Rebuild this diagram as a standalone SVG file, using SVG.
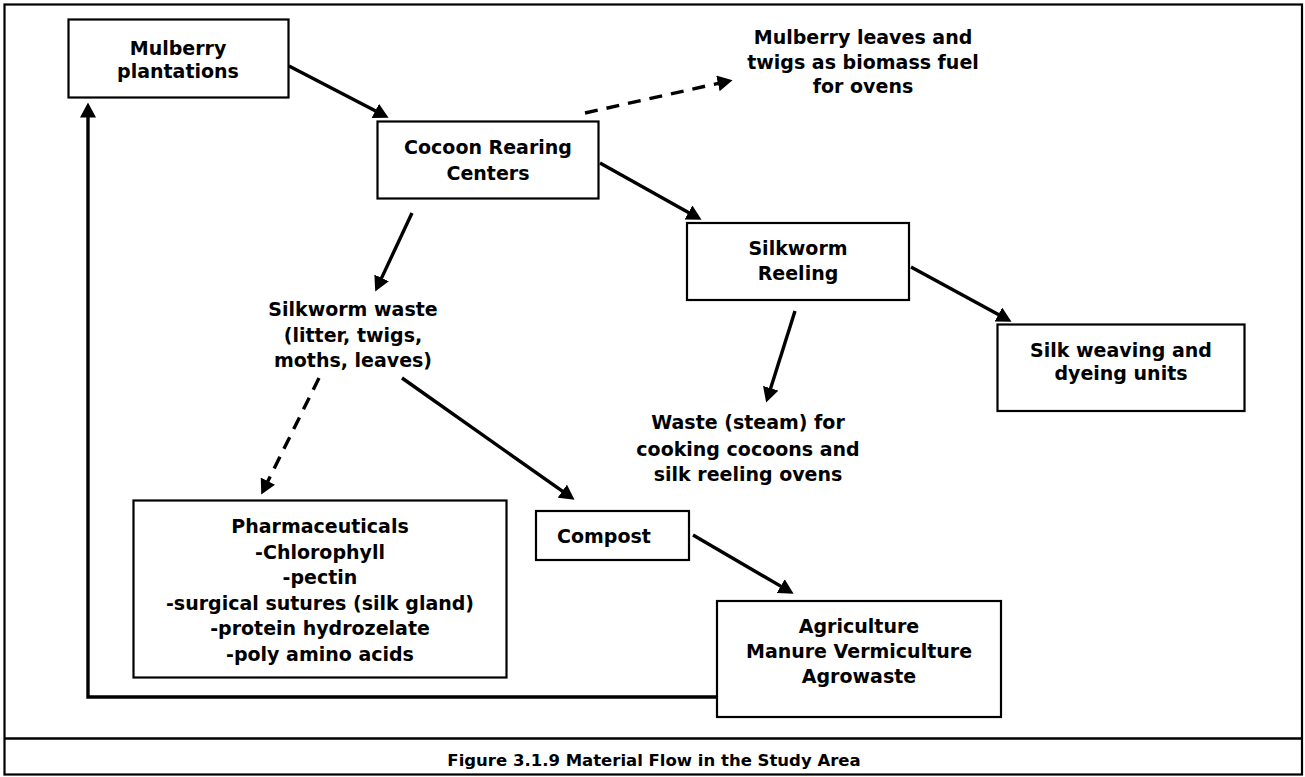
<svg xmlns="http://www.w3.org/2000/svg" width="1305" height="777" viewBox="0 0 1305 777">
  <style>
    .box { fill: #ffffff; stroke: #000000; stroke-width: 2.2; }
    .frame { fill: none; stroke: #000000; stroke-width: 2.2; }
    .lbl { font-family: "DejaVu Sans", Verdana, sans-serif; font-weight: bold; font-size: 19px; fill: #000000; text-anchor: middle; }
    .cap { font-family: "DejaVu Sans", Verdana, sans-serif; font-weight: bold; font-size: 16.5px; fill: #000000; text-anchor: middle; }
    .flow { fill: none; stroke: #000000; stroke-width: 3.4; marker-end: url(#head); }
    .dash { stroke-dasharray: 13 9; }
  </style>
  <defs>
    <!-- solid triangular arrowhead shared by every connector -->
    <marker id="head" viewBox="0 0 15 16" refX="0.5" refY="8" markerWidth="15" markerHeight="16" markerUnits="userSpaceOnUse" orient="auto">
      <path d="M0,0 L15,8 L0,16 z" fill="#000000" stroke="none"/>
    </marker>
  </defs>

  <rect width="1305" height="777" fill="#ffffff"/>

  <!-- outer frame and caption row -->
  <rect class="frame" x="4.5" y="4.5" width="1297.5" height="770"/>
  <line x1="4.5" y1="738.5" x2="1302" y2="738.5" stroke="#000000" stroke-width="2.6"/>
  <text class="cap" x="654" y="766">Figure 3.1.9 Material Flow in the Study Area</text>

  <g id="connectors">
    <line class="flow" x1="289" y1="66" x2="375.7" y2="111.1"/>
    <line class="flow" x1="600" y1="163" x2="688.9" y2="212.7"/>
    <line class="flow" x1="911" y1="267" x2="998.8" y2="314.8"/>
    <line class="flow" x1="412" y1="213" x2="381.4" y2="278.4"/>
    <line class="flow" x1="795" y1="311" x2="770.5" y2="388.7"/>
    <line class="flow dash" x1="319" y1="378" x2="267.7" y2="481.6"/>
    <line class="flow" x1="402" y1="378" x2="562.7" y2="491.4"/>
    <line class="flow" x1="693" y1="535" x2="781.1" y2="586.4"/>
    <line class="flow dash" x1="585" y1="113" x2="718.4" y2="83.3"/>
    <polyline class="flow" points="717,697 88,697 88,117"/>
  </g>

  <g id="mulberry-plantations">
    <rect class="box" x="68.5" y="19.5" width="220" height="78"/>
    <text class="lbl" x="178" y="54.5">Mulberry</text>
    <text class="lbl" x="178" y="77.5">plantations</text>
  </g>

  <g id="cocoon-rearing">
    <rect class="box" x="377.5" y="121.5" width="221" height="77"/>
    <text class="lbl" x="488" y="154">Cocoon Rearing</text>
    <text class="lbl" x="488" y="180">Centers</text>
  </g>

  <g id="biomass-fuel">
    <text class="lbl" x="863" y="43.5">Mulberry leaves and</text>
    <text class="lbl" x="863" y="68.5">twigs as biomass fuel</text>
    <text class="lbl" x="863" y="93">for ovens</text>
  </g>

  <g id="silkworm-reeling">
    <rect class="box" x="687" y="223" width="222" height="77"/>
    <text class="lbl" x="798" y="255">Silkworm</text>
    <text class="lbl" x="798" y="280">Reeling</text>
  </g>

  <g id="silk-weaving">
    <rect class="box" x="997.5" y="324.5" width="247" height="86.5"/>
    <text class="lbl" x="1121" y="357">Silk weaving and</text>
    <text class="lbl" x="1121" y="380">dyeing units</text>
  </g>

  <g id="silkworm-waste">
    <text class="lbl" x="353" y="316">Silkworm waste</text>
    <text class="lbl" x="353" y="341.5">(litter, twigs,</text>
    <text class="lbl" x="353" y="367">moths, leaves)</text>
  </g>

  <g id="steam-waste">
    <text class="lbl" x="748" y="429">Waste (steam) for</text>
    <text class="lbl" x="748" y="455.5">cooking cocoons and</text>
    <text class="lbl" x="748" y="481">silk reeling ovens</text>
  </g>

  <g id="pharmaceuticals">
    <rect class="box" x="133.5" y="500.5" width="373" height="177"/>
    <text class="lbl" x="320" y="533">Pharmaceuticals</text>
    <text class="lbl" x="320" y="558.5">-Chlorophyll</text>
    <text class="lbl" x="320" y="584">-pectin</text>
    <text class="lbl" x="320" y="609.5">-surgical sutures (silk gland)</text>
    <text class="lbl" x="320" y="635">-protein hydrozelate</text>
    <text class="lbl" x="320" y="660.5">-poly amino acids</text>
  </g>

  <g id="compost">
    <rect class="box" x="536" y="511" width="153" height="49"/>
    <text class="lbl" x="604" y="543">Compost</text>
  </g>

  <g id="agriculture">
    <rect class="box" x="717" y="601" width="284" height="116"/>
    <text class="lbl" x="859" y="633">Agriculture</text>
    <text class="lbl" x="859" y="658">Manure Vermiculture</text>
    <text class="lbl" x="859" y="683">Agrowaste</text>
  </g>
</svg>
